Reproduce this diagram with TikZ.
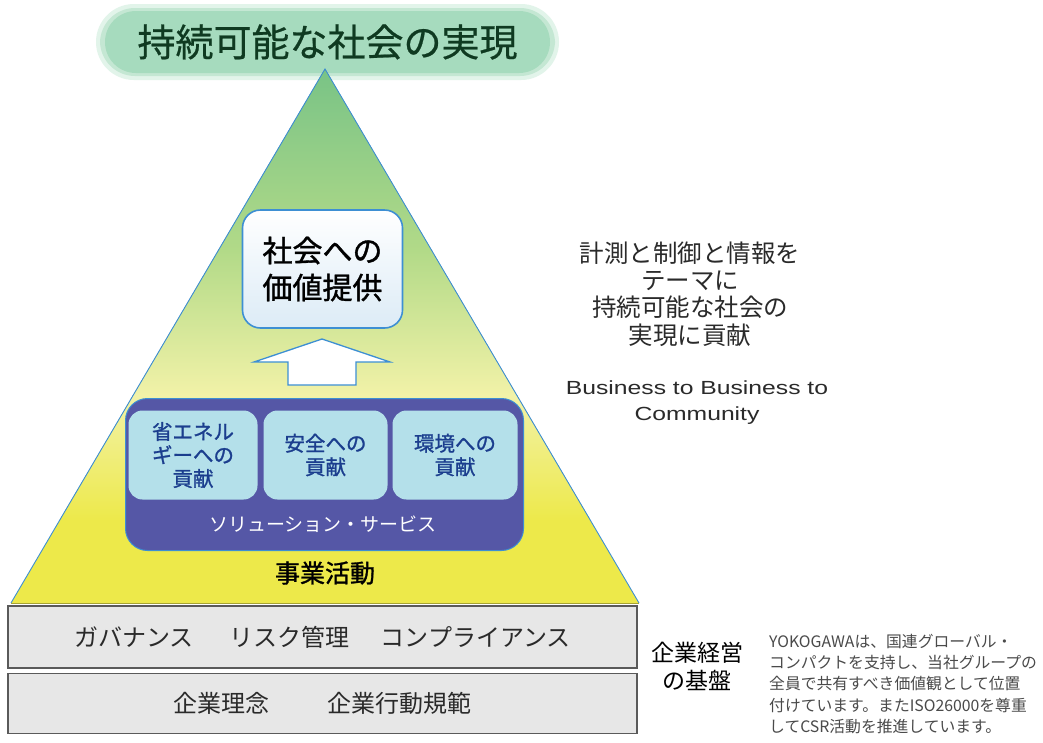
\documentclass[tikz,border=0pt]{standalone}
\usepackage{fontspec}
\setmainfont{Noto Sans CJK JP}
\newfontfamily\jp{Noto Sans CJK JP}
\newfontfamily\jpb[FakeBold=1.2]{Noto Sans CJK JP}
\newfontfamily\jpm[FakeBold=0.6]{Noto Sans CJK JP}
\newfontfamily\arialf[FakeStretch=1.3]{Liberation Sans}
\definecolor{pillG}{HTML}{A6DBBE}
\definecolor{pillHalo}{HTML}{C4E7D3}
\definecolor{pillHalo2}{HTML}{E2F4EA}
\definecolor{titleC}{HTML}{0F3A21}
\definecolor{triG}{HTML}{76C286}
\definecolor{triM}{HTML}{B2DA88}
\definecolor{triP}{HTML}{F2F2A8}
\definecolor{triY}{HTML}{EDE94A}
\definecolor{edgeB}{HTML}{3D8FD3}
\definecolor{purp}{HTML}{5557A6}
\definecolor{cyanF}{HTML}{B4E0EA}
\definecolor{blueT}{HTML}{1B3E8E}
\definecolor{grayF}{HTML}{E7E7E7}
\definecolor{grayD}{HTML}{5A5A5A}
\definecolor{txt}{HTML}{2A2A2A}
\definecolor{boxBot}{HTML}{DCEBF6}
\tikzset{
  pill/.style={rectangle, rounded corners=31, fill=pillG, minimum width=445, minimum height=62, inner sep=0, text=titleC, font={\jpm\fontsize{38}{42}\selectfont}},
  valuebox/.style={rectangle, rounded corners=18, top color=white, bottom color=boxBot, draw=edgeB, line width=1.6, minimum width=160, minimum height=118, inner sep=0, align=center, text=black, font={\jpb\fontsize{30}{37}\selectfont}},
  solbox/.style={rectangle, rounded corners=22, fill=purp, draw=edgeB, line width=1, minimum width=398, minimum height=152, inner sep=0},
  contrib/.style={rectangle, rounded corners=14, fill=cyanF, minimum height=89, inner sep=0, align=center, text=blueT, font={\jpb\fontsize{20.5}{23.5}\selectfont}},
  basebox/.style={rectangle, fill=grayF, draw=grayD, line width=1.2, minimum width=629, inner sep=0, text=txt, font={\jp\fontsize{24}{27}\selectfont}},
  plain/.style={inner sep=0, align=center, text=txt},
}
\begin{document}
\begin{tikzpicture}[x=1pt,y=-1pt]
\useasboundingbox[fill=white] (0,0) rectangle (1043,742);
% title pill with soft halo
\fill[pillHalo2, rounded corners=38] (96,4) rectangle (559,80);
\fill[pillHalo, rounded corners=35] (100,8) rectangle (555,76);
\node[pill] (title) at (327.5,42) {持続可能な社会の実現};
% triangle
\coordinate (apex) at (325,69);
\coordinate (bl) at (11,603);
\coordinate (br) at (639,603);
\begin{scope}
\clip (apex) -- (bl) -- (br) -- cycle;
\fill[top color=triG, bottom color=triM] (0,60) rectangle (650,251);
\fill[top color=triM, bottom color=triP] (0,250) rectangle (650,396);
\fill[top color=triP, bottom color=triY] (0,395) rectangle (650,521);
\fill[triY] (0,520) rectangle (650,610);
\end{scope}
\draw[edgeB, line width=0.9] (bl) -- (apex) -- (br);
\draw[black!30!triY, line width=0.8] (bl) -- (br);
% value box
\node[valuebox] (value) at (322.5,269) {社会への\\価値提供};
% block arrow
\coordinate (tip) at (322,339);
\draw[fill=white, draw=edgeB, line width=1.3, line join=miter]
  (tip) -- ++(68,23) -- ++(-34,0) -- ++(0,23) -- ++(-68,0) -- ++(0,-23) -- ++(-34,0) -- cycle;
% solutions
\node[solbox] (sol) at (324.5,474.5) {};
\node[contrib, minimum width=129] (energy) at (193,455) {省エネル\\ギーへの\\貢献};
\node[contrib, minimum width=124] (safety) at (325.5,455) {安全への\\貢献};
\node[contrib, minimum width=125] (env) at (455,455) {環境への\\貢献};
\node[inner sep=0, text=white, font={\jp\fontsize{19}{22}\selectfont}] (soltxt) at (323,524) {ソリューション・サービス};
\node[plain, text=black, font={\jpb\fontsize{25}{28}\selectfont}] (biz) at (325,573) {事業活動};
% base boxes
\node[basebox, minimum height=62] (gov) at (322.5,637) {ガバナンス\hspace{1.5em}リスク管理\hspace{1.3em}コンプライアンス};
\node[basebox, minimum height=60] (phil) at (322.5,703.5) {企業理念\hspace{2.4em}企業行動規範};
% right texts
\node[plain, font={\jp\fontsize{24.5}{27.3}\selectfont}] (mission) at (690,294) {計測と制御と情報を\\テーマに\\持続可能な社会の\\実現に貢献};
\node[plain, font={\arialf\fontsize{19}{26}\selectfont}] (b2b) at (697,403) {Business to Business to\\Community};
\node[plain, text=black, font={\jp\fontsize{23}{28}\selectfont}] (found) at (697,666) {企業経営\\の基盤};
\node[inner sep=0, anchor=north west, align=left, text=txt!85!white, font={\jp\fontsize{15.8}{21.2}\selectfont}] (note) at (769,634) {YOKOGAWAは、国連グローバル・\\コンパクトを支持し、当社グループの\\全員で共有すべき価値観として位置\\付けています。またISO26000を尊重\\してCSR活動を推進しています。};
\end{tikzpicture}
\end{document}
